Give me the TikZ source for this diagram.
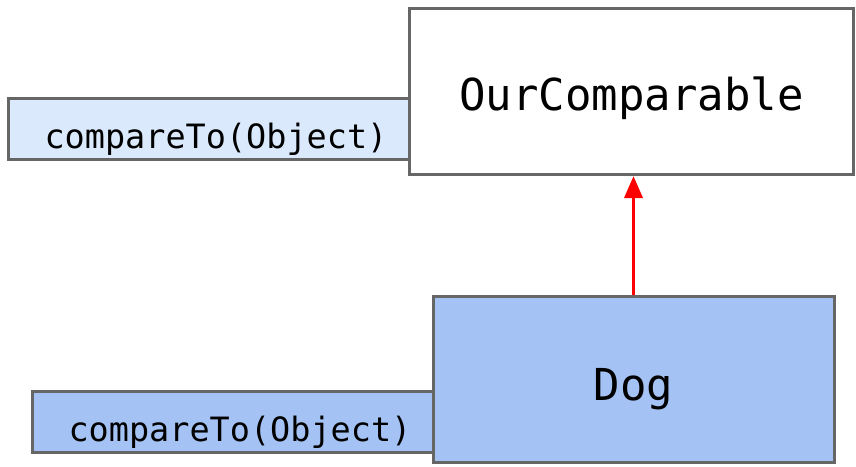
\documentclass[tikz,border=0pt]{standalone}
\usepackage{fontspec}
\setmonofont{DejaVu Sans Mono}
\usetikzlibrary{arrows.meta}

\definecolor{lineGray}{HTML}{666666}
\definecolor{paleBlue}{RGB}{218,234,252}
\definecolor{dogBlue}{HTML}{A4C2F4}

\begin{document}
\begin{tikzpicture}[x = 1pt, y = -1pt,
  box/.style = {draw = lineGray, line width = 3pt, inner sep = 0pt, text depth = 0pt},
  classbox/.style = {box, minimum height = 166pt, font = \ttfamily\fontsize{44}{52}\selectfont},
  methodbox/.style = {box, minimum width = 401pt, minimum height = 61pt, text height = 40pt,
    execute at begin node = \hspace*{15pt}, font = \ttfamily\fontsize{33.5}{40}\selectfont},
  implements/.style = {draw = red, line width = 3.5pt, -{Triangle[length = 22pt, width = 18pt]}}]
\useasboundingbox (0, 0) rectangle (856, 466);
\node[methodbox, fill = paleBlue] (topMethod) at (208.5, 128.5) {compareTo(Object)};
\node[methodbox, fill = dogBlue] (dogMethod) at (232.5, 421.5) {compareTo(Object)};
\node[classbox, fill = white, minimum width = 444pt, text height = 37pt] (ourComparable) at (631.5, 91.5) {OurComparable};
\node[classbox, fill = dogBlue, minimum width = 401pt, text height = 42pt] (dog) at (633.5, 379) {Dog};
\draw[implements] (dog.north) -- (dog.north |- ourComparable.south);
\end{tikzpicture}
\end{document}
